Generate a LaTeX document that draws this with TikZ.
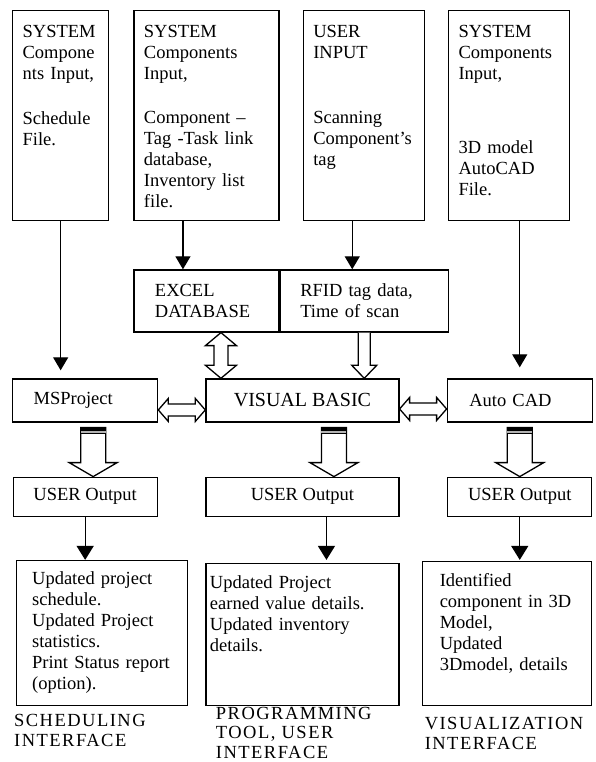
\documentclass[tikz,border=0pt]{standalone}
\usepackage{fontspec}
\setmainfont{Liberation Serif}
\newfontfamily\capfont[LetterSpace=8]{Liberation Serif}
\usetikzlibrary{positioning,arrows.meta,calc}

\begin{document}
\begin{tikzpicture}[
    x=1pt, y=1pt,
    font=\fontsize{18.5}{21}\selectfont,
    line width=1.3pt,
    >={Triangle[length=13pt,width=15pt]},
    inbox/.style={draw, align=left, inner xsep=10pt, inner ysep=0pt, text height=27pt, text depth=183pt},
    block/.style={draw, align=left, inner ysep=0pt, minimum height=43pt},
    outbox/.style={draw, align=left, inner ysep=0pt},
    caption/.style={align=left, inner sep=0pt, text width=190pt, anchor=base west, font=\capfont\fontsize{18.5}{20}\selectfont},
    hollow/.style={draw, fill=white, line join=miter}
]
\useasboundingbox (0,0) rectangle (596,-762);

% input columns
\node[inbox, text width=76pt, anchor=north west] (top1) at (12,-10) {SYSTEM\\Compone\\nts Input,\\[24pt]Schedule\\File.};
\node[inbox, text width=125pt, right=24pt of top1] (top2) {SYSTEM\\Components\\Input,\\[23pt]Component --\\Tag -Task link\\database,\\Inventory list\\file.};
\node[inbox, text width=101pt, right=23pt of top2] (top3) {USER\\INPUT\\[44pt]Scanning\\Component's\\tag};
\node[inbox, text width=101pt, right=23pt of top3] (top4) {SYSTEM\\Components\\Input,\\[53pt]3D model\\AutoCAD\\File.};

% data
\node[block, text width=103pt, inner xsep=21pt, minimum height=62pt, below=48pt of top2] (excel) {EXCEL\\DATABASE};
\node[block, text width=128pt, inner xsep=20pt, minimum height=62pt, right=0pt of excel] (rfid) {RFID tag data,\\Time of scan};

% programs
\node[block, text width=103pt, inner xsep=21pt, below=157pt of top1.south west, anchor=north west] (msp) {MSProject};
\node[block, align=center, minimum width=193pt, font=\fontsize{20}{24}\selectfont, right=47pt of msp] (vb) {VISUAL BASIC};
\node[block, text width=101pt, inner xsep=22pt, right=47pt of vb] (acad) {Auto CAD};

% outputs
\node[block, align=center, minimum width=144pt, minimum height=39pt, below=54pt of msp] (out1) {USER Output};
\node[block, align=center, minimum width=193pt, minimum height=39pt, below=54pt of vb] (out2) {USER Output};
\node[block, align=center, minimum width=144pt, minimum height=39pt, below=54pt of acad] (out3) {USER Output};

\node[outbox, text width=139pt, inner xsep=16pt, text height=24pt, text depth=121pt, below=43pt of out1.south west, anchor=north west, xshift=3pt] (res1) {Updated project\\schedule.\\Updated Project\\statistics.\\Print Status report\\(option).};
\node[outbox, text width=185pt, inner xsep=4pt, text height=25pt, text depth=117pt, below=46pt of out2] (res2) {Updated Project\\earned value details.\\Updated inventory\\details.};
\node[outbox, text width=135pt, inner xsep=17pt, text height=25pt, text depth=119pt, below=44pt of out3.south east, anchor=north east] (res3) {Identified\\component in 3D\\Model,\\Updated\\3Dmodel, details};

% captions
\node[caption] (cap1) at ([shift={(-2,-20)}]res1.south west) {SCHEDULING\\INTERFACE};
\node[caption, font=\capfont\fontsize{18.5}{19.5}\selectfont] (cap2) at ([shift={(10,-13)}]res2.south west) {PROGRAMMING\\TOOL, USER\\INTERFACE};
\node[caption] (cap3) at ([shift={(2,-23)}]res3.south west) {VISUALIZATION\\INTERFACE};

% plain arrows
\draw[->, shorten >=8pt] (top1.south) -- (top1.south |- msp.north);
\draw[->] ([xshift=-23.5pt]top2.south) -- ([xshift=-23.5pt]excel.north);
\draw[->] ([xshift=-11.5pt]top3.south) -- ([xshift=-12pt]rfid.north);
\draw[->, shorten >=11pt] (acad.north |- top4.south) -- (acad.north);
\draw[-{Triangle[length=14pt,width=17pt]}] (out1.south) -- (out1.south |- res1.north);
\draw[-{Triangle[length=14pt,width=17pt]}, shorten >=3pt] ([xshift=24pt]out2.south) -- ([xshift=24pt]out2.south |- res2.north);
\draw[-{Triangle[length=14pt,width=17pt]}, shorten >=1pt] (out3.south) -- (out3.south |- res3.north);

% hollow arrows
\coordinate (ev) at ([xshift=14.5pt]excel.south);
\coordinate (evb) at (ev |- vb.north);
\draw[hollow] (ev) -- ++(15.5,-13) -- ++(-8.5,0) -- ([shift={(7,13)}]evb) -- ++(8.5,0) -- (evb) -- ++(-15.5,13) -- ++(8.5,0) -- ([shift={(-7,-13)}]ev) -- ++(-8.5,0) -- cycle;

\coordinate (rv) at (rfid.south);
\coordinate (rvb) at (rv |- vb.north);
\draw[hollow] ([xshift=-6pt]rv) -- ([shift={(-6,13)}]rvb) -- ++(-6.5,0) -- (rvb) -- ++(12.5,13) -- ++(-6.5,0) -- ([xshift=6pt]rv);

\coordinate (mv) at ([yshift=-9.5pt]msp.east);
\coordinate (vm) at (mv -| vb.west);
\draw[hollow] (mv) -- ++(10,11.5) -- ++(0,-5.5) -- ([shift={(-10,6)}]vm) -- ++(0,5.5) -- (vm) -- ++(-10,-11.5) -- ++(0,5.5) -- ([shift={(10,-6)}]mv) -- ++(0,-5.5) -- cycle;

\coordinate (va) at ([yshift=-8.5pt]vb.east);
\coordinate (av) at (va -| acad.west);
\draw[hollow] (va) -- ++(10,11.5) -- ++(0,-5.5) -- ([shift={(-10,6)}]av) -- ++(0,5.5) -- (av) -- ++(-10,-11.5) -- ++(0,5.5) -- ([shift={(10,-6)}]va) -- ++(0,-5.5) -- cycle;

% striped arrows to the outputs
\coordinate (b1) at ([xshift=8pt]msp.south);
\coordinate (b1t) at (b1 |- out1.north);
\draw[hollow] ([shift={(-12.5,-5)}]b1) -- ++(0,-35) -- ++(-11.5,0) -- (b1t) -- ++(24,14) -- ++(-11.5,0) -- ([shift={(12.5,-5)}]b1) -- cycle;
\fill ([shift={(-12.5,-5)}]b1) rectangle ++(25,-3);
\fill[gray!60] ([shift={(-12.5,-8)}]b1) rectangle ++(25,-3);
\draw[line width=0.9pt] ([shift={(-12.5,-11)}]b1) -- ++(25,0);

\coordinate (b2) at ([xshift=31.5pt]vb.south);
\coordinate (b2t) at (b2 |- out2.north);
\draw[hollow] ([shift={(-12.5,-5)}]b2) -- ++(0,-35) -- ++(-11.5,0) -- (b2t) -- ++(24,14) -- ++(-11.5,0) -- ([shift={(12.5,-5)}]b2) -- cycle;
\fill ([shift={(-12.5,-5)}]b2) rectangle ++(25,-3);
\fill[gray!60] ([shift={(-12.5,-8)}]b2) rectangle ++(25,-3);
\draw[line width=0.9pt] ([shift={(-12.5,-11)}]b2) -- ++(25,0);

\coordinate (b3) at (acad.south);
\coordinate (b3t) at (b3 |- out3.north);
\draw[hollow] ([shift={(-12.5,-5)}]b3) -- ++(0,-35) -- ++(-11.5,0) -- (b3t) -- ++(24,14) -- ++(-11.5,0) -- ([shift={(12.5,-5)}]b3) -- cycle;
\fill ([shift={(-12.5,-5)}]b3) rectangle ++(25,-3);
\fill[gray!60] ([shift={(-12.5,-8)}]b3) rectangle ++(25,-3);
\draw[line width=0.9pt] ([shift={(-12.5,-11)}]b3) -- ++(25,0);

\end{tikzpicture}
\end{document}
